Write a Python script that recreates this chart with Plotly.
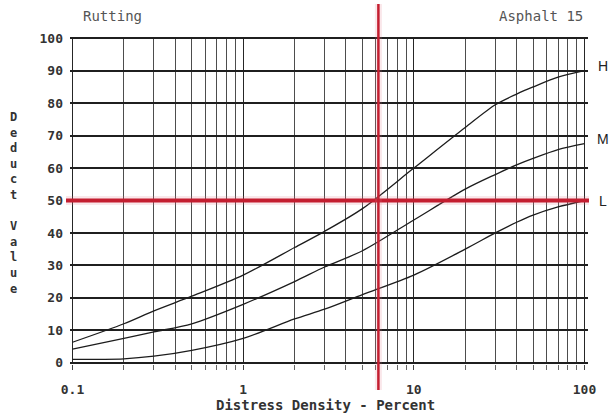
import math
import plotly.graph_objects as go

# Deduct value curves for asphalt rutting (severity H / M / L)
density = [0.1, 0.2, 0.3, 0.5, 1, 2, 3, 5, 10, 20, 30, 40, 50, 70, 100]
deduct_high = [6.3, 12, 16, 20.5, 27, 35.5, 40.5, 47.5, 60, 72.5, 79.5, 82.8, 85, 88, 90]
deduct_medium = [4.2, 7.5, 9.5, 12, 18, 25, 29.5, 34.5, 44, 53.5, 58, 61, 63, 65.7, 67.5]
deduct_low = [1.0, 1.2, 2.0, 3.8, 7.5, 13.5, 16.5, 21, 27, 35, 40, 43.3, 45.5, 48, 50]

severity_labels = ["H", "M", "L"]
label_shift_px = [5, 5, 0]

x_tick_values = [0.1, 1, 10, 100]
x_tick_text = ["0.1", "1", "10", "100"]
y_tick_values = list(range(0, 101, 10))

# worked example: measured density and the resulting deduct value
reading_density = 6.2
reading_deduct = 50

chart_title = "Rutting"
pavement_type = "Asphalt 15"
x_title = "Distress Density - Percent"
y_title = "Deduct Value"

W, H = 610, 417
M_L, M_R, M_T, M_B = 70, 22, 37, 53
plot_w = W - M_L - M_R
plot_h = H - M_T - M_B
px_per_decade = 170.7
x_range = [math.log10(0.1) - 2.5 / px_per_decade, math.log10(100) + 3.5 / px_per_decade]
y_range = [-0.4, 100.4]

MONO = "DejaVu Sans Mono"
INK = "#333333"
RED = "#c41e30"

fig = go.Figure()

for values in (deduct_high, deduct_medium, deduct_low):
    fig.add_trace(go.Scatter(
        x=density, y=values, mode="lines",
        line=dict(color="#1c1c1c", width=1.3, shape="spline", smoothing=0.8),
        showlegend=False, hoverinfo="skip",
    ))

def px_to_paper_x(px):
    return (px - M_L) / plot_w

def px_to_paper_y(py):
    return (H - M_B - py) / plot_h

# red reading lines: faint halo underneath, solid line on top
for width, color in ((9, "rgba(225,120,140,0.18)"), (4, RED)):
    fig.add_shape(type="line", xref="paper", yref="y",
                  x0=px_to_paper_x(66), x1=px_to_paper_x(589),
                  y0=reading_deduct, y1=reading_deduct,
                  line=dict(color=color, width=width), layer="above")
for width, color in ((7, "rgba(225,120,140,0.18)"), (2.5, RED)):
    fig.add_shape(type="line", xref="x", yref="paper",
                  x0=reading_density, x1=reading_density,
                  y0=px_to_paper_y(390), y1=px_to_paper_y(4),
                  line=dict(color=color, width=width), layer="above")

def text_note(text, px, py, font):
    return dict(text=text, x=px_to_paper_x(px), y=px_to_paper_y(py),
                xref="paper", yref="paper", xanchor="center", yanchor="middle",
                showarrow=False, font=font)

annotations = [
    text_note(chart_title, 112, 16, dict(family=MONO, size=14, color="#555")),
    text_note(pavement_type, 541, 16, dict(family=MONO, size=14, color="#555")),
    text_note(x_title, 325, 405, dict(family=MONO, size=14, color=INK, weight="bold")),
    text_note("<br>".join(ch for ch in y_title.replace(" ", "\u2009")).replace("\u2009", ""),
              13, 203, dict(family=MONO, size=12, color=INK, weight="bold")),
]
for label, values, shift in zip(severity_labels,
                                (deduct_high, deduct_medium, deduct_low),
                                label_shift_px):
    annotations.append(dict(
        text=label, x=px_to_paper_x(603), y=values[-1], yshift=shift,
        xref="paper", yref="y", xanchor="center", yanchor="middle", showarrow=False,
        font=dict(family="Liberation Sans", size=14, color="#222"),
    ))

fig.update_layout(
    width=W, height=H,
    margin=dict(l=M_L, r=M_R, t=M_T, b=M_B),
    paper_bgcolor="white", plot_bgcolor="white",
    annotations=annotations,
    xaxis=dict(
        type="log", range=x_range,
        tickvals=x_tick_values, ticktext=x_tick_text,
        showgrid=True, gridcolor="#262626", gridwidth=1.4,
        ticks="outside", ticklen=5, tickcolor="#444",
        ticklabelstandoff=8,
        minor=dict(dtick="D1", showgrid=True, gridcolor="#4d4d4d", gridwidth=1,
                   ticks="outside", ticklen=5, tickcolor="#666"),
        zeroline=False, showline=False,
        tickfont=dict(family=MONO, size=13, color=INK, weight="bold"),
        fixedrange=True,
    ),
    yaxis=dict(
        range=y_range, tickvals=y_tick_values,
        showgrid=True, gridcolor="#1f1f1f", gridwidth=1.8,
        ticks="", zeroline=False, showline=False,
        ticklabelstandoff=6,
        tickfont=dict(family=MONO, size=13, color=INK, weight="bold"),
        fixedrange=True,
    ),
)

fig.write_html("out.html")
